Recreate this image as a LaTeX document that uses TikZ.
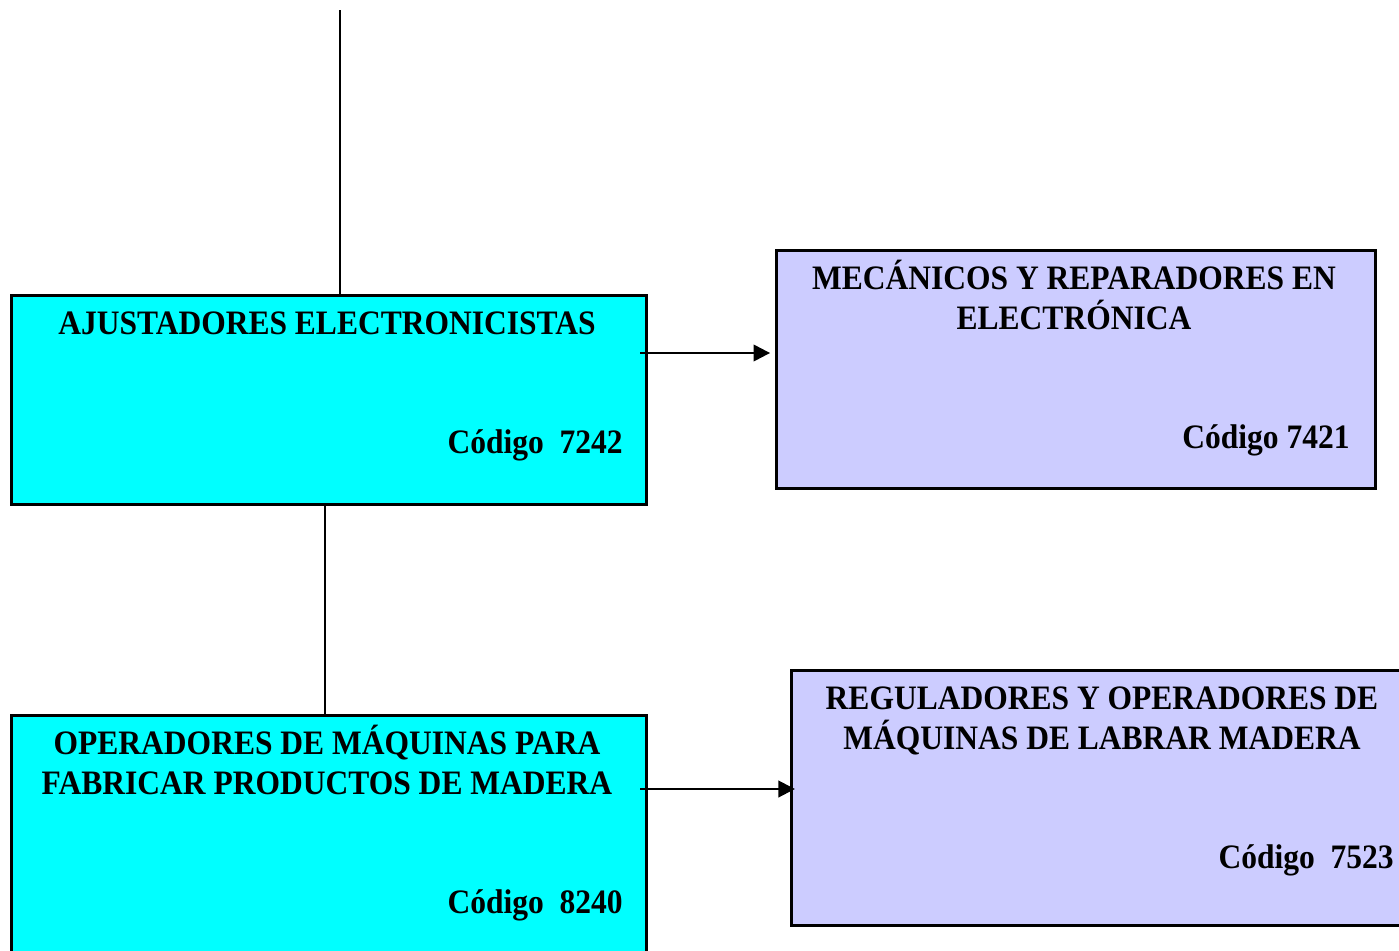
\documentclass[tikz,border=0pt]{standalone}
\usepackage{fontspec}
\setmainfont[FakeStretch=0.92]{Liberation Serif}
\usetikzlibrary{arrows.meta}
\definecolor{cian}{HTML}{00FFFF}
\definecolor{lila}{HTML}{CCCCFF}
\tikzset{
  caja/.style={draw, line width=1.5pt, anchor=north west, inner sep=0pt},
  titulo/.style={align=center, anchor=base, inner sep=0pt,
    font=\fontsize{19.5}{22.7}\selectfont\bfseries},
  codigo/.style={anchor=base east, inner sep=0pt,
    font=\fontsize{19.5}{22.7}\selectfont\bfseries},
  linea/.style={line width=1.3pt},
  flecha/.style={line width=1.3pt, -{Triangle[length=0.33cm,width=0.33cm]}}
}
\begin{document}
\begin{tikzpicture}[x=0.02cm,y=-0.02cm]
  \useasboundingbox (0,0) rectangle (1399,950);
  % cajas
  \node[caja, fill=cian, minimum width=12.7cm, minimum height=4.18cm] (ajust) at (10,294) {};
  \node[caja, fill=lila, minimum width=11.98cm, minimum height=4.76cm] (mecan) at (775,249) {};
  \node[caja, fill=cian, minimum width=12.7cm, minimum height=5cm] (operad) at (10,714) {};
  \node[caja, fill=lila, minimum width=12.48cm, minimum height=5.1cm] (regul) at (790,669) {};
  % textos (base = linea final)
  \node[titulo] (ajust-t) at (327,334) {AJUSTADORES ELECTRONICISTAS};
  \node[codigo] (ajust-c) at (623,453) {Código\ \ 7242};
  \node[titulo] (mecan-t) at (1074,329) {MECÁNICOS Y REPARADORES EN\\ELECTRÓNICA};
  \node[codigo] (mecan-c) at (1350,448) {Código 7421};
  \node[titulo] (operad-t) at (327,794) {OPERADORES DE MÁQUINAS PARA\\FABRICAR PRODUCTOS DE MADERA};
  \node[codigo] (operad-c) at (623,913) {Código\ \ 8240};
  \node[titulo] (regul-t) at (1102,749) {REGULADORES Y OPERADORES DE\\MÁQUINAS DE LABRAR MADERA};
  \node[codigo] (regul-c) at (1394,868) {Código\ \ 7523};
  % conectores
  \coordinate (arriba) at (340,10);
  \draw[linea] (arriba) -- (arriba |- ajust.north);
  \draw[linea] (ajust.south -| 325,0) -- (operad.north -| 325,0);
  \coordinate (s1) at (640,353);
  \coordinate (s2) at (640,789);
  \draw[flecha, shorten >=2.8pt] (s1) -- (s1 -| mecan.west);
  \draw[flecha, shorten >=-2.8pt] (s2) -- (s2 -| regul.west);
\end{tikzpicture}
\end{document}
